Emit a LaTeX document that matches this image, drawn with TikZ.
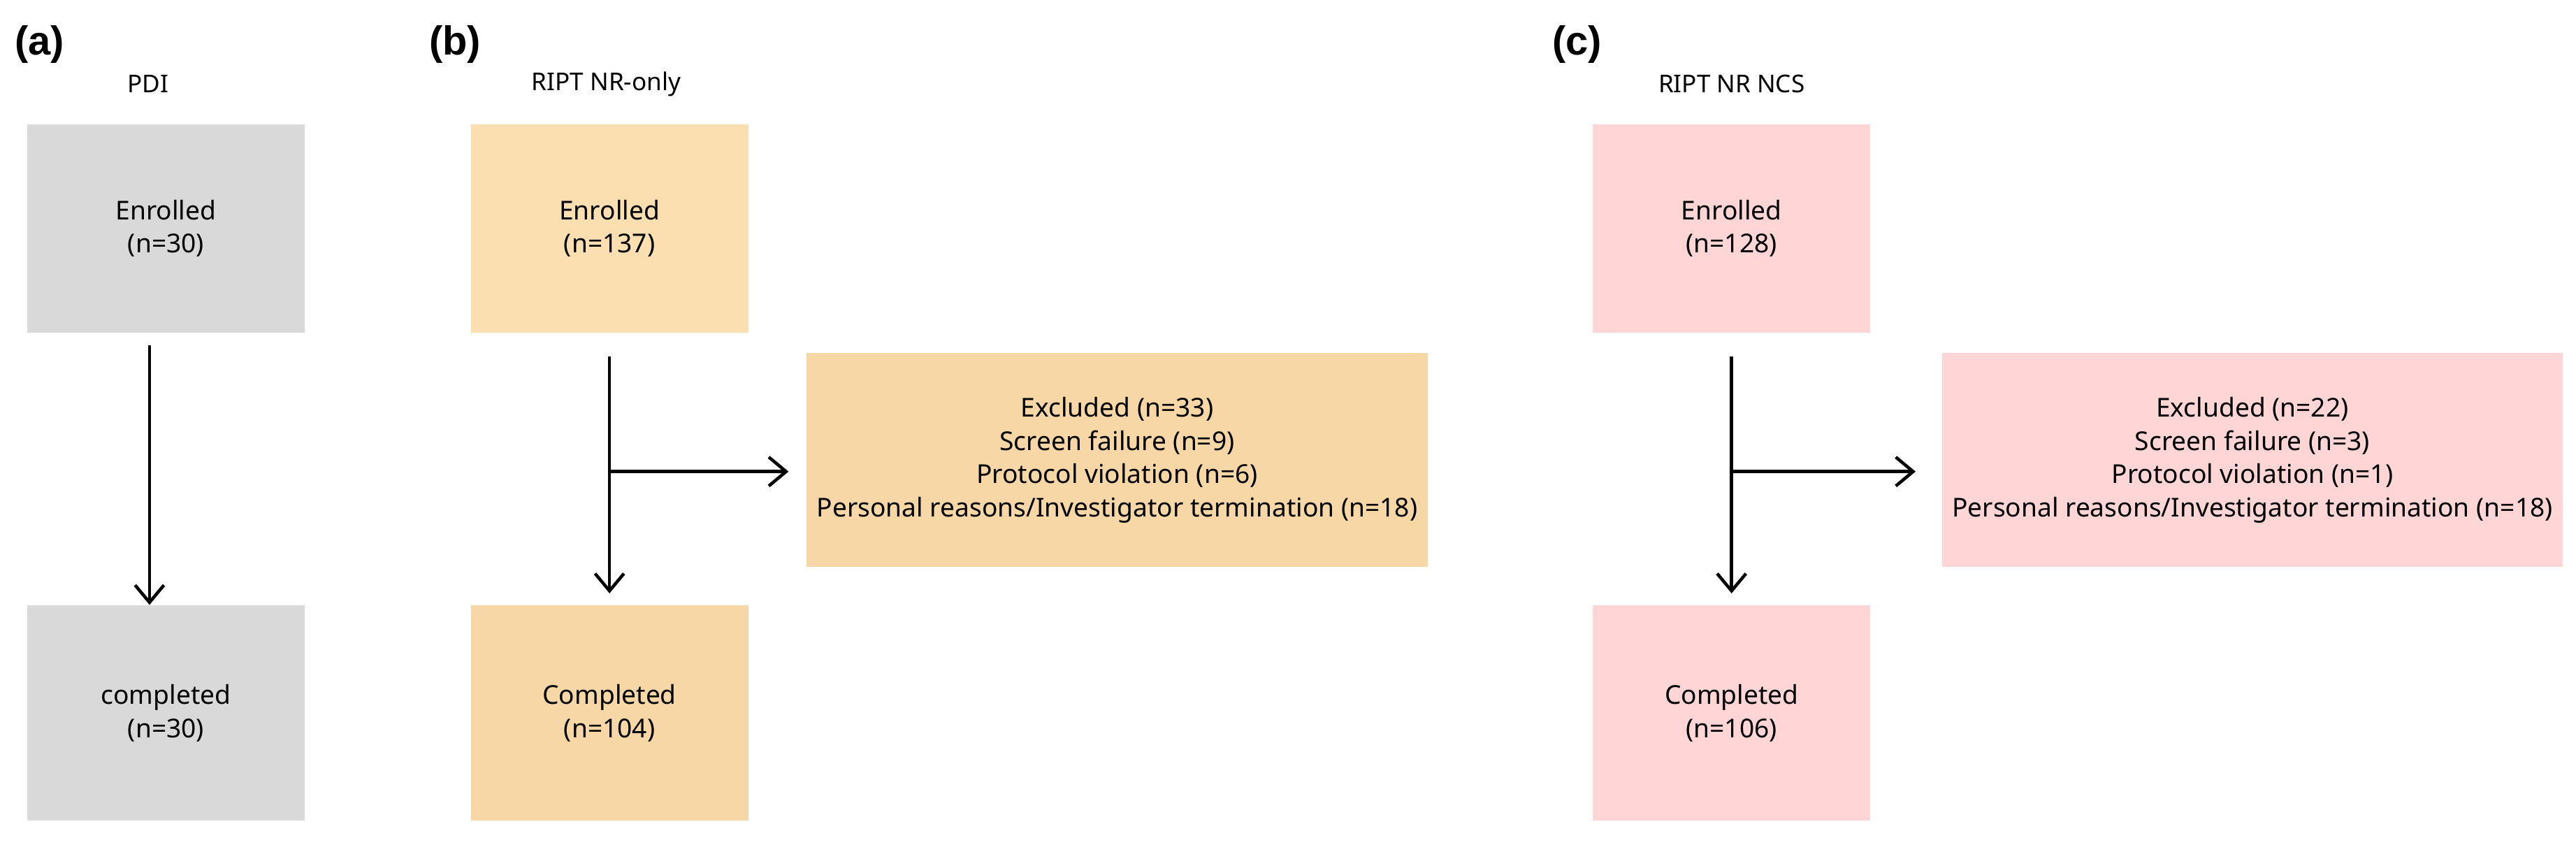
\documentclass[tikz,border=0pt]{standalone}
\usepackage{fontspec}
\setmainfont{Noto Sans}
\newfontfamily\panelfont{Liberation Sans}
\usetikzlibrary{positioning,arrows.meta}
\definecolor{pdigray}{HTML}{D9D9D9}
\definecolor{nrorange}{HTML}{FCDFB0}
\definecolor{nrorangedark}{HTML}{F7D7A6}
\definecolor{ncspink}{HTML}{FFD5D6}
\begin{document}
\begin{tikzpicture}[
    x=0.02cm, y=-0.02cm,
    flowbox/.style={rectangle, minimum width=3.38cm, minimum height=2.54cm, align=center, font=\fontsize{9}{11.5}\selectfont},
    endbox/.style={flowbox, minimum height=2.62cm},
    exclbox/.style={rectangle, minimum width=7.56cm, minimum height=2.6cm, align=center, font=\fontsize{9}{11.5}\selectfont},
    panellabel/.style={font=\panelfont\fontsize{14}{16}\selectfont\bfseries},
    armtitle/.style={font=\fontsize{8.5}{10}\selectfont},
    flowarrow/.style={-{Straight Barb[length=6pt,width=10pt]}, line width=1.1pt}
]
    \useasboundingbox (0,0) rectangle (1568,514);
    % (a) PDI
    \node[panellabel] (la) at (24,27) {(a)};
    \node[armtitle] (ta) at (90,51) {PDI};
    \node[flowbox, fill=pdigray] (enrA) at (101,139) {Enrolled\\(n=30)};
    \node[endbox, fill=pdigray] (compA) at (101,434) {completed\\(n=30)};
    \coordinate (topA) at (91,210);
    \draw[flowarrow] (topA) -- (topA |- compA.north);

    % (b) RIPT NR-only
    \node[panellabel] (lb) at (277,27) {(b)};
    \node[armtitle] (tb) at (369,51) {RIPT NR-only};
    \node[flowbox, fill=nrorange] (enrB) at (371,139) {Enrolled\\(n=137)};
    \node[endbox, fill=nrorangedark] (compB) at (371,434) {Completed\\(n=104)};
    \node[exclbox, fill=nrorangedark] (exB) at (680,280) {Excluded (n=33)\\Screen failure (n=9)\\Protocol violation (n=6)\\Personal reasons/Investigator termination (n=18)};
    \draw[flowarrow] ([yshift=-8]enrB.south) -- ([yshift=4]compB.north);
    \coordinate (brB) at (371,287);
    \draw[flowarrow] (brB) -- (480,287);

    % (c) RIPT NR NCS
    \node[panellabel] (lc) at (960,27) {(c)};
    \node[armtitle] (tc) at (1054,51) {RIPT NR NCS};
    \node[flowbox, fill=ncspink] (enrC) at (1054,139) {Enrolled\\(n=128)};
    \node[endbox, fill=ncspink] (compC) at (1054,434) {Completed\\(n=106)};
    \node[exclbox, fill=ncspink] (exC) at (1371,280) {Excluded (n=22)\\Screen failure (n=3)\\Protocol violation (n=1)\\Personal reasons/Investigator termination (n=18)};
    \draw[flowarrow] ([yshift=-8]enrC.south) -- ([yshift=4]compC.north);
    \coordinate (brC) at (1054,287);
    \draw[flowarrow] (brC) -- (1166,287);
\end{tikzpicture}
\end{document}
